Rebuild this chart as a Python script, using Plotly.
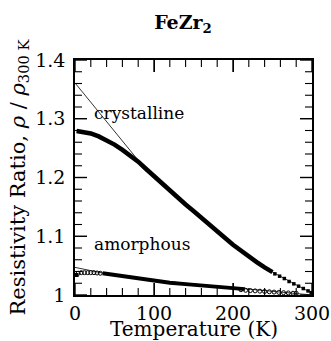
import plotly.graph_objects as go

# Crystalline FeZr2 (dense data)
cry_T = [2, 10, 20, 30, 40, 50, 60, 70, 80, 90, 100, 110, 120, 130, 140, 150,
         160, 170, 180, 190, 200, 210, 220, 230, 240, 250]
cry_rho = [1.279, 1.278, 1.275, 1.270, 1.264, 1.256, 1.247, 1.237, 1.227, 1.2145,
           1.202, 1.1895, 1.177, 1.165, 1.154, 1.143, 1.132, 1.121, 1.109, 1.097,
           1.0855, 1.075, 1.065, 1.056, 1.047, 1.039]
# Crystalline sparse points at high T
cry_pts_T = [253, 259, 265, 271, 277, 283, 289, 295, 299]
cry_pts_rho = [1.036, 1.032, 1.028, 1.023, 1.019, 1.015, 1.011, 1.007, 1.004]
# Crystalline fit line
cfit_T = [0, 85, 120, 160, 200, 250, 300]
cfit_rho = [1.361, 1.221, 1.177, 1.132, 1.0855, 1.039, 1.003]

# Amorphous FeZr2 (dense data)
amo_T = [35, 50, 60, 80, 100, 120, 140, 160, 180, 200, 215]
amo_rho = [1.037, 1.034, 1.032, 1.028, 1.024, 1.021, 1.0185, 1.016, 1.0135, 1.0115, 1.010]
# Amorphous open-circle points
amo_lo_T = [4, 8, 12, 16, 20, 24, 28, 32]
amo_lo_rho = [1.037, 1.038, 1.038, 1.038, 1.038, 1.038, 1.0375, 1.037]
amo_hi_T = [210, 216, 222, 228, 234, 240, 246, 252, 258, 264, 270, 276, 280]
amo_hi_rho = [1.009, 1.008, 1.0075, 1.007, 1.0065, 1.006, 1.0055, 1.005, 1.0045, 1.004, 1.0035, 1.003, 1.003]
amo_first_T = [2]
amo_first_rho = [1.034]
# Amorphous fit line
afit_T = [0, 40, 100, 200, 250, 300]
afit_rho = [1.047, 1.036, 1.025, 1.012, 1.006, 1.000]

# Tick positions / labels
x_major = [0, 100, 200, 300]
x_minor = [20, 40, 60, 80, 120, 140, 160, 180, 220, 240, 260, 280]
y_major = [1.0, 1.1, 1.2, 1.3, 1.4]
y_major_text = ["1", "1.1", "1.2", "1.3", "1.4"]
y_minor = [1.02, 1.04, 1.06, 1.08, 1.12, 1.14, 1.16, 1.18,
           1.22, 1.24, 1.26, 1.28, 1.32, 1.34, 1.36, 1.38]

FONT = "DejaVu Serif"
X_RANGE = [0, 300]
Y_RANGE = [1.0, 1.4]
W, H = 331, 341
M = dict(l=75, r=19, t=60, b=46)
PX_X = (X_RANGE[1] - X_RANGE[0]) / (W - M["l"] - M["r"])  # data units per pixel
PX_Y = (Y_RANGE[1] - Y_RANGE[0]) / (H - M["t"] - M["b"])

fig = go.Figure()
fig.add_trace(go.Scatter(x=cfit_T, y=cfit_rho, mode="lines",
                         line=dict(color="black", width=0.8), hoverinfo="skip"))
fig.add_trace(go.Scatter(x=afit_T, y=afit_rho, mode="lines",
                         line=dict(color="black", width=0.8), hoverinfo="skip"))
fig.add_trace(go.Scatter(x=cry_T, y=cry_rho, mode="lines",
                         line=dict(color="black", width=4.5)))
fig.add_trace(go.Scatter(x=cry_pts_T, y=cry_pts_rho, mode="markers",
                         marker=dict(symbol="square", size=3.5, color="black")))
fig.add_trace(go.Scatter(x=amo_T, y=amo_rho, mode="lines",
                         line=dict(color="black", width=4)))
fig.add_trace(go.Scatter(x=amo_lo_T + amo_hi_T, y=amo_lo_rho + amo_hi_rho, mode="markers",
                         marker=dict(symbol="circle-open", size=4, color="black",
                                     line=dict(width=1))))
fig.add_trace(go.Scatter(x=amo_first_T, y=amo_first_rho, mode="markers",
                         marker=dict(symbol="square", size=4, color="black")))


# Inward tick marks on all four sides, built from the tick arrays
def tick_trace(xvals, yvals, length, width):
    xs, ys = [], []
    for v in xvals:
        ly = length * PX_Y
        xs += [v, v, None, v, v, None]
        ys += [Y_RANGE[0], Y_RANGE[0] + ly, None, Y_RANGE[1], Y_RANGE[1] - ly, None]
    for v in yvals:
        lx = length * PX_X
        xs += [X_RANGE[0], X_RANGE[0] + lx, None, X_RANGE[1], X_RANGE[1] - lx, None]
        ys += [v, v, None, v, v, None]
    return go.Scatter(x=xs, y=ys, mode="lines", line=dict(color="black", width=width),
                      hoverinfo="skip", cliponaxis=False)


fig.add_trace(tick_trace(x_major, y_major, 12, 1.4))
fig.add_trace(tick_trace(x_minor, y_minor, 7, 1.1))

fig.add_annotation(x=21, y=1.31, text="crystalline", showarrow=False,
                   xanchor="left", yanchor="middle",
                   font=dict(family=FONT, size=17, color="black"))
fig.add_annotation(x=21, y=1.086, text="amorphous", showarrow=False,
                   xanchor="left", yanchor="middle",
                   font=dict(family=FONT, size=17, color="black"))
# Axis titles
fig.add_annotation(xref="paper", yref="paper", x=0.5, y=0, yshift=-34,
                   text="Temperature (K)", showarrow=False,
                   xanchor="center", yanchor="middle",
                   font=dict(family=FONT, size=20, color="black"))
fig.add_annotation(xref="paper", yref="paper", x=0, y=0.5, xshift=-57,
                   text="Resistivity Ratio, <i>ρ</i> / <i>ρ</i><sub>300 K</sub>",
                   textangle=-90, showarrow=False,
                   xanchor="center", yanchor="middle",
                   font=dict(family=FONT, size=21, color="black"))

axis_common = dict(
    showline=True, linecolor="black", linewidth=1.5, mirror="ticks",
    ticks="inside", ticklen=12, tickwidth=1.4, tickcolor="black",
    showgrid=False, zeroline=False, ticklabeloverflow="allow",
    automargin=False,
    tickfont=dict(family=FONT, size=19, color="black"),
)

fig.update_layout(
    width=W, height=H,
    margin=M,
    paper_bgcolor="white", plot_bgcolor="white",
    showlegend=False,
    title=dict(text="<b>FeZr<sub>2</sub></b>", x=183 / 331, xanchor="center",
               y=1 - 22 / 341, yanchor="middle",
               font=dict(family=FONT, size=19, color="black")),
    xaxis=dict(range=X_RANGE, tickmode="array", tickvals=x_major,
               ticklabelstandoff=0, **axis_common),
    yaxis=dict(range=Y_RANGE, tickmode="array", tickvals=y_major,
               ticktext=y_major_text, ticklabelstandoff=4, **axis_common),
)

fig.write_html("out.html")
